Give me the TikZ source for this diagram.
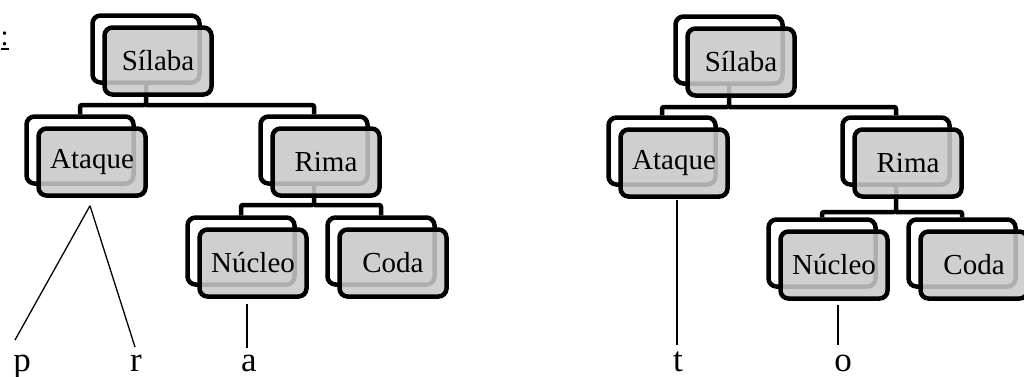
\documentclass[tikz,border=0pt]{standalone}
\usepackage{fontspec}
\setmainfont{Liberation Serif}
\usetikzlibrary{calc}
\tikzset{
  box/.style={draw, line width=4.5pt, rounded corners=8pt, minimum width=107pt, minimum height=67pt, inner sep=0pt},
  backbox/.style={box, fill=white},
  frontbox/.style={box, fill=black!21, fill opacity=0.87, text opacity=1, font=\fontsize{29}{34}\selectfont},
  conn/.style={line width=4.5pt, rounded corners=2pt},
  leaf/.style={line width=1.3pt},
  letter/.style={anchor=base, inner sep=0pt, font=\fontsize{35}{40}\selectfont}
}
\begin{document}
\begin{tikzpicture}[x=1pt, y=-1pt]
\useasboundingbox (0,0) rectangle (1024,376);
% colon at left edge
\node[anchor=base east, inner sep=0pt, font=\fontsize{29}{34}\selectfont] (colon) at (9,45) {:};
\draw[line width=1.5pt] (colon.south west |- 0,49) -- (colon.south east |- 0,49);
% back boxes
\foreach \n/\x/\y in {sL/158/61, aL/92/162, rL/326/162, nL/253/263, cL/393/263,
                      sR/741/62, aR/674/163, rR/908/163, nR/834/265, cR/974/265}{
  \node[backbox] (\n b) at (\x-12,\y-12) {};
}
% bar levels
\coordinate (barL1) at (0,105);
\coordinate (barL2) at (0,205);
\coordinate (barR1) at (0,107);
\coordinate (barR2) at (0,212);
% connectors
\draw[conn] (sLb.south) -- (sLb.south |- barL1) -| (aLb.north);
\draw[conn] (sLb.south |- barL1) -| (rLb.north);
\draw[conn] (rLb.south) -- (rLb.south |- barL2) -| (nLb.north);
\draw[conn] (rLb.south |- barL2) -| (cLb.north);
\draw[conn] (sRb.south) -- (sRb.south |- barR1) -| (aRb.north);
\draw[conn] (sRb.south |- barR1) -| (rRb.north);
\draw[conn] (rRb.south) -- (rRb.south |- barR2) -| (nRb.north);
\draw[conn] (rRb.south |- barR2) -| (cRb.north);
% front boxes
\node[frontbox] (sL) at (158,61) {Sílaba};
\node[frontbox] (aL) at (92,162) {Ataque};
\node[frontbox] (rL) at (326,162) {Rima};
\node[frontbox] (nL) at (253,263) {Núcleo};
\node[frontbox] (cL) at (393,263) {Coda};
\node[frontbox] (sR) at (741,62) {Sílaba};
\node[frontbox] (aR) at (674,163) {Ataque};
\node[frontbox] (rR) at (908,163) {Rima};
\node[frontbox] (nR) at (834,265) {Núcleo};
\node[frontbox] (cR) at (974,265) {Coda};
% leaves
\node[letter] (pL) at (22,371) {p};
\node[letter] (rrL) at (136,371) {r};
\node[letter] (aaL) at (249,371) {a};
\node[letter] (tR) at (678,371) {t};
\node[letter] (oR) at (843,371) {o};
\coordinate (apexL) at ($(aL.south)+(-2,8)$);
\coordinate (pEnd) at (15,340);
\coordinate (rEnd) at (135,347);
\coordinate (nLtop) at ($(nL.south)+(-6,5)$);
\coordinate (aEnd) at (247,348);
\coordinate (aRtop) at ($(aR.south)+(3,1)$);
\coordinate (tEnd) at (677,345);
\coordinate (nRtop) at ($(nR.south)+(4,4)$);
\coordinate (oEnd) at (838,345);
\draw[leaf] (apexL) -- (pEnd);
\draw[leaf] (apexL) -- (rEnd);
\draw[leaf] (nLtop) -- (aEnd);
\draw[leaf] (aRtop) -- (tEnd);
\draw[leaf] (nRtop) -- (oEnd);
\end{tikzpicture}
\end{document}
